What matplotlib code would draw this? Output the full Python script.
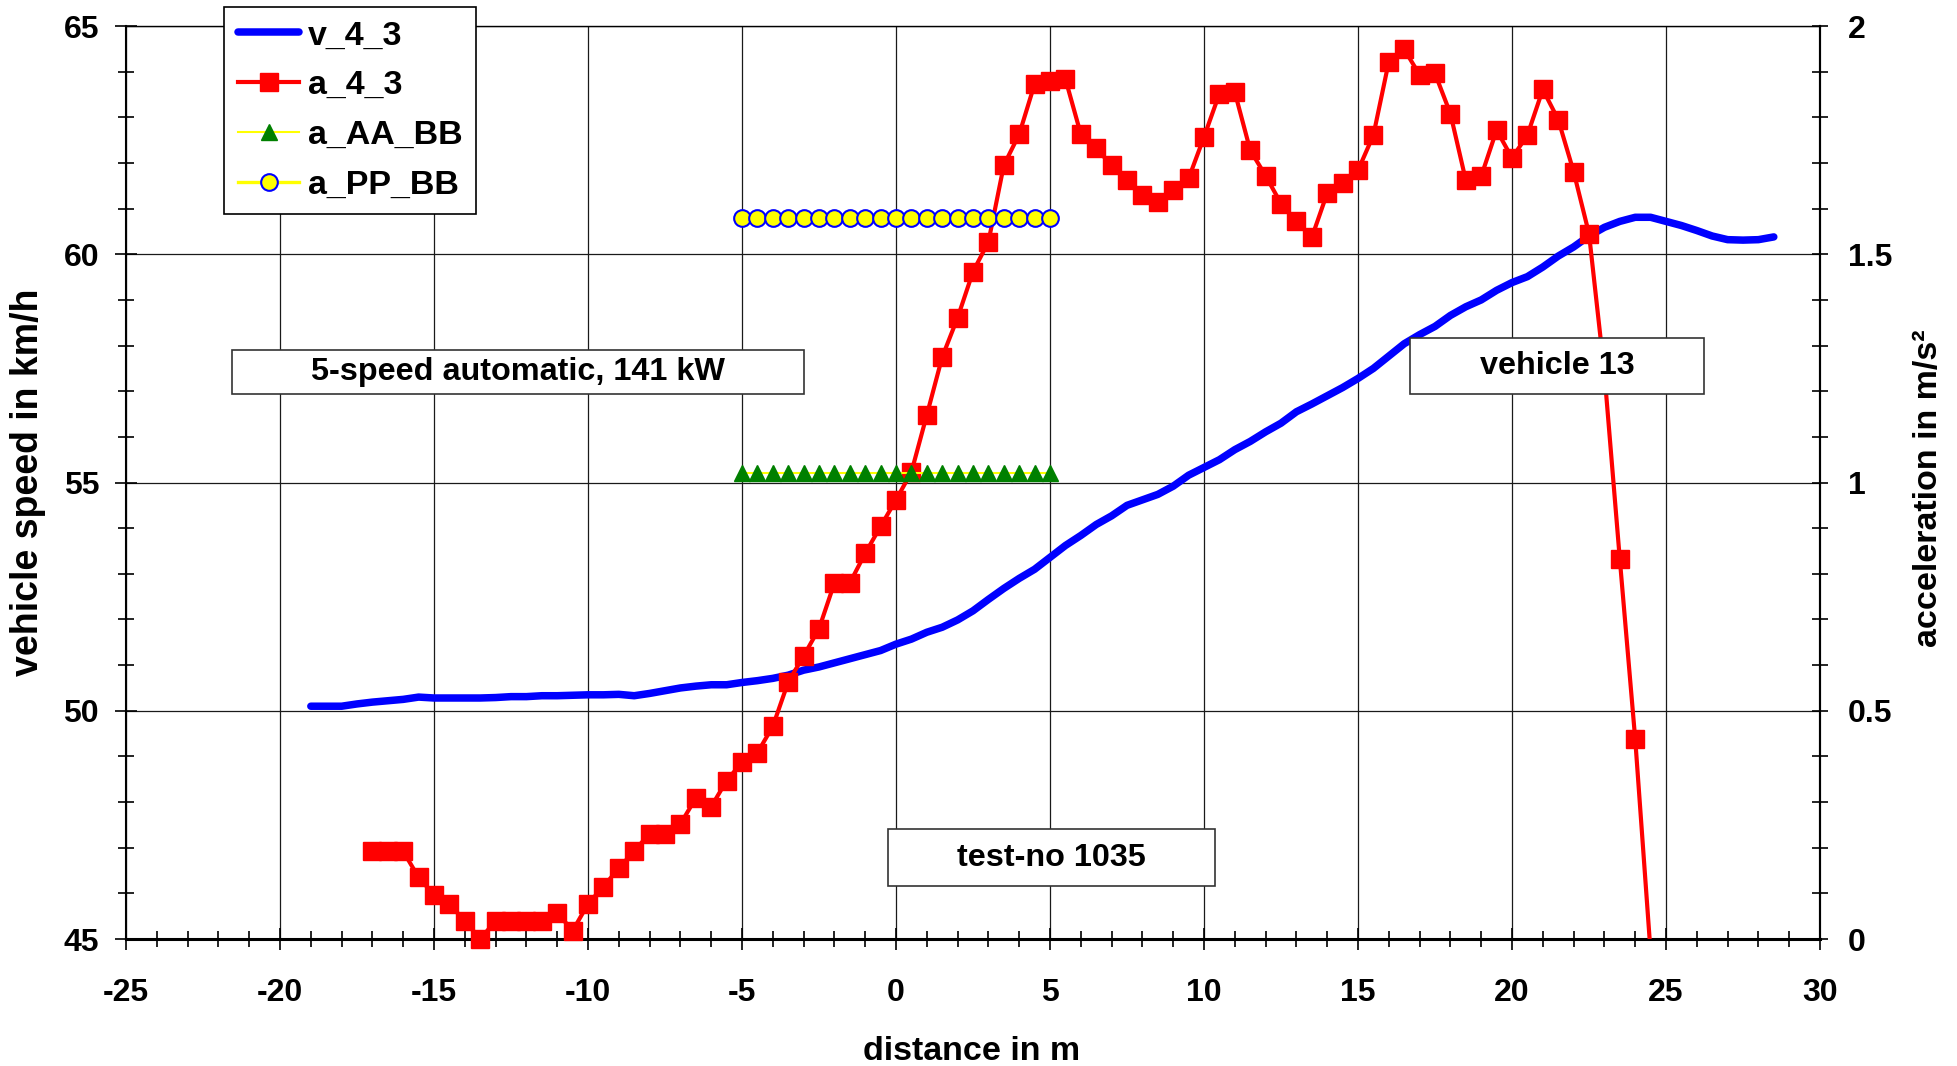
import numpy as np
import matplotlib
matplotlib.use("Agg")
import matplotlib.pyplot as plt
from matplotlib.ticker import MultipleLocator, FuncFormatter
from matplotlib.patches import Rectangle
from matplotlib.lines import Line2D

plt.rcParams['font.family'] = ['Liberation Sans', 'DejaVu Sans']
plt.rcParams['font.weight'] = 'bold'
plt.rcParams['axes.unicode_minus'] = False

# ---------------- data ----------------
dist_v = [-19, -18.5, -18, -17.5, -17, -16.5, -16, -15.5, -15, -14.5, -14, -13.5, -13, -12.5,
          -12, -11.5, -11, -10.5, -10, -9.5, -9, -8.5, -8, -7.5, -7, -6.5, -6, -5.5, -5, -4.5,
          -4, -3.5, -3, -2.5, -2, -1.5, -1, -0.5, 0, 0.5, 1, 1.5, 2, 2.5, 3, 3.5, 4, 4.5, 5,
          5.5, 6, 6.5, 7, 7.5, 8, 8.5, 9, 9.5, 10, 10.5, 11, 11.5, 12, 12.5, 13, 13.5, 14,
          14.5, 15, 15.5, 16, 16.5, 17, 17.5, 18, 18.5, 19, 19.5, 20, 20.5, 21, 21.5, 22,
          22.5, 23, 23.5, 24, 24.5, 25, 25.5, 26, 26.5, 27, 27.5, 28, 28.5]
v_4_3 = [50.10, 50.10, 50.10, 50.15, 50.19, 50.22, 50.25, 50.30, 50.28, 50.28, 50.28, 50.28,
         50.29, 50.31, 50.31, 50.33, 50.33, 50.34, 50.35, 50.35, 50.36, 50.33, 50.38, 50.44,
         50.50, 50.54, 50.57, 50.57, 50.62, 50.66, 50.71, 50.78, 50.89, 50.96, 51.05, 51.14,
         51.23, 51.32, 51.46, 51.57, 51.72, 51.83, 51.99, 52.19, 52.44, 52.68, 52.90, 53.10,
         53.36, 53.62, 53.84, 54.08, 54.27, 54.50, 54.62, 54.74, 54.92, 55.16, 55.33, 55.50,
         55.72, 55.90, 56.11, 56.30, 56.55, 56.72, 56.90, 57.08, 57.28, 57.50, 57.77, 58.04,
         58.24, 58.42, 58.66, 58.85, 59.00, 59.21, 59.38, 59.51, 59.72, 59.96, 60.16, 60.40,
         60.59, 60.72, 60.81, 60.81, 60.72, 60.63, 60.52, 60.40, 60.32, 60.31, 60.32, 60.38]

dist_a = [-17, -16.5, -16, -15.5, -15, -14.5, -14, -13.5, -13, -12.5, -12, -11.5, -11, -10.5,
          -10, -9.5, -9, -8.5, -8, -7.5, -7, -6.5, -6, -5.5, -5, -4.5, -4, -3.5, -3, -2.5, -2,
          -1.5, -1, -0.5, 0, 0.5, 1, 1.5, 2, 2.5, 3, 3.5, 4, 4.5, 5, 5.5, 6, 6.5, 7, 7.5, 8,
          8.5, 9, 9.5, 10, 10.5, 11, 11.5, 12, 12.5, 13, 13.5, 14, 14.5, 15, 15.5, 16, 16.5,
          17, 17.5, 18, 18.5, 19, 19.5, 20, 20.5, 21, 21.5, 22, 22.5, 23, 23.5, 24, 24.5]
a_4_3 = [0.192, 0.192, 0.192, 0.135, 0.097, 0.076, 0.040, 0.000, 0.040, 0.040, 0.040, 0.040,
         0.058, 0.018, 0.077, 0.115, 0.155, 0.193, 0.231, 0.231, 0.252, 0.309, 0.290, 0.347,
         0.387, 0.408, 0.466, 0.563, 0.620, 0.680, 0.780, 0.780, 0.845, 0.904, 0.962, 1.023,
         1.148, 1.275, 1.361, 1.462, 1.527, 1.695, 1.763, 1.873, 1.880, 1.884, 1.763, 1.732,
         1.695, 1.663, 1.630, 1.615, 1.640, 1.666, 1.757, 1.852, 1.855, 1.728, 1.672, 1.611,
         1.572, 1.537, 1.634, 1.657, 1.684, 1.761, 1.922, 1.949, 1.893, 1.896, 1.808, 1.662,
         1.671, 1.772, 1.711, 1.761, 1.861, 1.795, 1.681, 1.545, 1.240, 0.832, 0.438, -0.030]

dist_bb = [-5, -4.5, -4, -3.5, -3, -2.5, -2, -1.5, -1, -0.5, 0, 0.5, 1, 1.5, 2, 2.5, 3, 3.5,
           4, 4.5, 5]
a_AA_BB = [1.02] * len(dist_bb)
a_PP_BB = [1.58] * len(dist_bb)

# ---------------- figure ----------------
fig = plt.figure(figsize=(19.57, 10.66), dpi=100)
ax = fig.add_axes([0.0644, 0.1191, 0.8656, 0.8565])
ax2 = ax.twinx()

BLUE_LW = 5.4
ax.plot(dist_v, v_4_3, color='#0000FF', lw=BLUE_LW, solid_joinstyle='round',
        solid_capstyle='round', zorder=3)

ax2.plot(dist_a, a_4_3, color='#FF0000', lw=3, zorder=3)
a_arr = np.array(a_4_3, dtype=float)
a_mark = np.where(a_arr >= 0, a_arr, np.nan)
ax2.plot(dist_a, a_mark, ls='none', marker='s', ms=12.5, mfc='#FF0000', mec='#FF0000',
         zorder=4, clip_on=False)
ax2.plot(dist_bb, a_AA_BB, color='#FFFF00', lw=1.5, marker='^', ms=11,
         mfc='#008000', mec='#008000', zorder=5)
ax2.plot(dist_bb, a_PP_BB, color='#FFFF00', lw=2.4, marker='o', ms=12,
         mfc='#FFFF00', mec='#0000FF', mew=1.5, zorder=6)

ax.set_xlim(-25, 30)
ax.set_ylim(45, 65)
ax2.set_ylim(0, 2)

ax.xaxis.set_major_locator(MultipleLocator(5))
ax.xaxis.set_minor_locator(MultipleLocator(1))
ax.yaxis.set_major_locator(MultipleLocator(5))
ax.yaxis.set_minor_locator(MultipleLocator(1))
ax2.yaxis.set_major_locator(MultipleLocator(0.5))
ax2.yaxis.set_minor_locator(MultipleLocator(0.1))
ax2.yaxis.set_major_formatter(FuncFormatter(lambda v, p: '%g' % v))

ax.grid(True, which='major', color='#1a1a1a', lw=0.9)
ax.set_axisbelow(True)

ax.tick_params(axis='x', which='major', direction='inout', length=15.8, width=1.2,
               pad=20, labelsize=23)
ax.tick_params(axis='x', which='minor', direction='inout', length=11.5, width=1.2)
ax.tick_params(axis='y', which='major', direction='inout', length=15.8, width=1.2,
               pad=11.5, labelsize=23)
ax.tick_params(axis='y', which='minor', direction='inout', length=11.5, width=1.2)
ax2.tick_params(axis='y', which='both', direction='inout', length=12, width=1.2,
                pad=14, labelsize=23)

ax.spines['bottom'].set_linewidth(2.2)
ax.spines['left'].set_linewidth(1.5)
ax.spines['top'].set_linewidth(1.0)
ax.spines['right'].set_linewidth(1.5)
for s in ['left', 'top', 'bottom']:
    ax2.spines[s].set_visible(False)
ax2.spines['right'].set_linewidth(1.5)

# legend
handles = [
    Line2D([], [], color='#0000FF', lw=BLUE_LW, solid_capstyle='round'),
    Line2D([], [], color='#FF0000', lw=3, marker='s', ms=12.5, mfc='#FF0000', mec='#FF0000'),
    Line2D([], [], color='#FFFF00', lw=1.5, marker='^', ms=11, mfc='#008000', mec='#008000'),
    Line2D([], [], color='#FFFF00', lw=2.4, marker='o', ms=12, mfc='#FFFF00', mec='#0000FF',
           mew=1.5),
]
labels = ['v_4_3', 'a_4_3', 'a_AA_BB', 'a_PP_BB']
leg = ax2.legend(handles, labels, loc='upper left', bbox_to_anchor=(0.0581, 1.0211),
                 bbox_transform=ax2.transAxes, borderaxespad=0, frameon=True,
                 fancybox=False, edgecolor='black', framealpha=1, fontsize=24.5,
                 handlelength=1.8, handletextpad=0.25, labelspacing=0.55, borderpad=0.4)
leg.get_frame().set_linewidth(1.2)
leg.set_zorder(30)

# text boxes
boxes = [
    (0.0623, 0.597, 0.3377, 0.0482, '5-speed automatic, 141 kW'),
    (0.758, 0.5966, 0.1736, 0.062, 'vehicle 13'),
    (0.4498, 0.058, 0.193, 0.0624, 'test-no 1035'),
]
for x0, y0, w, h, t in boxes:
    ax2.add_patch(Rectangle((x0, y0), w, h, transform=ax2.transAxes, fc='white',
                            ec='#333333', lw=1.2, zorder=15, clip_on=False))
    ax2.text(x0 + w / 2, y0 + h / 2, t, transform=ax2.transAxes, ha='center',
             va='center', fontsize=23.3, zorder=16)

# axis titles
fig.text(28 / 1957, 1 - 482 / 1066, 'vehicle speed in km/h', rotation=90,
         ha='center', va='center', fontsize=27)
fig.text(1929 / 1957, 1 - 488 / 1066, 'acceleration in m/s²', rotation=90,
         ha='center', va='center', fontsize=24.5)
fig.text(972 / 1957, 1 - 1052 / 1066, 'distance in m', ha='center', va='center',
         fontsize=24.5)

fig.savefig('out.png', dpi=100)
